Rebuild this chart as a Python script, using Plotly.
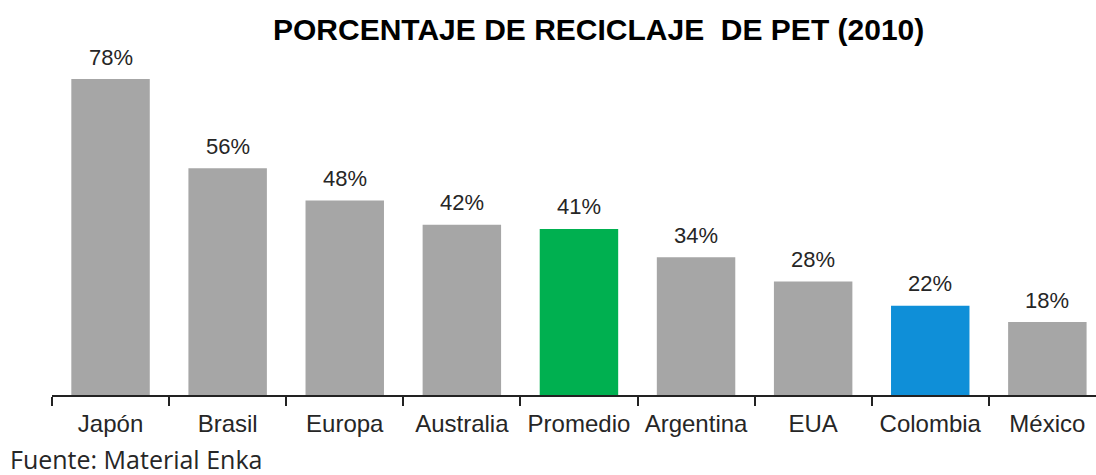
import plotly.graph_objects as go

categories = ["Japón", "Brasil", "Europa", "Australia", "Promedio", "Argentina", "EUA", "Colombia", "México"]
values = [78, 56, 48, 42, 41, 34, 28, 22, 18]
labels = ["78%", "56%", "48%", "42%", "41%", "34%", "28%", "22%", "18%"]
colors = ["#A6A6A6", "#A6A6A6", "#A6A6A6", "#A6A6A6", "#00B050", "#A6A6A6", "#A6A6A6", "#0F8FD8", "#A6A6A6"]

W, H = 1096, 475
ml, mr, mt, mb = 52, 0, 60, 80
cat_px = 117.1
plot_w = W - ml - mr
plot_h = H - mt - mb
px_per_unit = 316 / 78.0

fig = go.Figure()
fig.add_trace(go.Bar(
    x=categories, y=values, marker=dict(color=colors, line=dict(width=0)),
    width=0.67, hoverinfo="skip",
))

for c, v, t in zip(categories, values, labels):
    fig.add_annotation(x=c, y=v, text=t, showarrow=False, yanchor="middle", yshift=22,
                       font=dict(family="Liberation Sans, Arial", size=22, color="#262626"))

fig.add_annotation(xref="paper", yref="paper", x=(598 - ml) / plot_w, y=1 + (mt - 29) / plot_h,
                   text="<b>PORCENTAJE DE RECICLAJE  DE PET (2010)</b>", showarrow=False,
                   xanchor="center", yanchor="middle",
                   font=dict(family="Liberation Sans, Arial", size=30, color="#000000"))

fig.add_annotation(xref="paper", yref="paper", x=(8 - ml) / plot_w, y=-(459 - (H - mb)) / plot_h,
                   text="Fuente: Material Enka", showarrow=False,
                   xanchor="left", yanchor="middle",
                   font=dict(family="Open Sans, Noto Sans", size=25, color="#262626"))

fig.update_layout(
    width=W, height=H,
    margin=dict(l=ml, r=mr, t=mt, b=mb, pad=0),
    paper_bgcolor="white", plot_bgcolor="white",
    showlegend=False,
    xaxis=dict(
        type="category", range=[-0.5, -0.5 + plot_w / cat_px],
        showline=True, linecolor="#222222", linewidth=1.5,
        ticks="outside", tickson="boundaries", ticklen=9, tickcolor="#222222", tickwidth=1.5,
        ticklabelstandoff=6,
        tickfont=dict(family="Liberation Sans, Arial", size=24, color="#262626"),
        showgrid=False, zeroline=False,
    ),
    yaxis=dict(range=[0, plot_h / px_per_unit], visible=False, showgrid=False, zeroline=False),
)

fig.write_html("out.html", config={"displayModeBar": False},
               post_script="document.body.style.margin='0';document.body.style.overflow='hidden';")
